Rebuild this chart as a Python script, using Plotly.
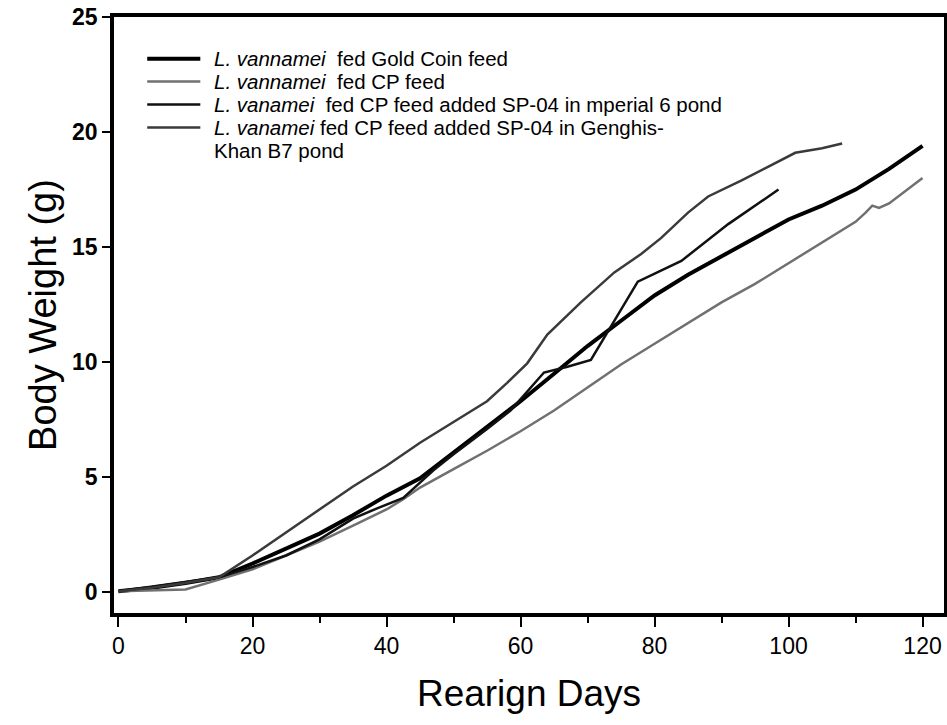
import plotly.graph_objects as go

# Growth of L. vannamei body weight (g) over rearing days
days_gold = [0, 5, 10, 15, 20, 25, 30, 35, 40, 45, 50, 55, 60, 65, 70, 75, 80, 85, 90, 95, 100, 105, 110, 115, 120]
wt_gold = [0.05, 0.2, 0.4, 0.65, 1.25, 1.9, 2.55, 3.35, 4.2, 4.95, 6.05, 7.15, 8.3, 9.5, 10.7, 11.8, 12.9, 13.8, 14.6, 15.4, 16.2, 16.8, 17.5, 18.4, 19.4]

days_cp = [0, 5, 10, 15, 20, 25, 30, 35, 40, 42.5, 45, 50, 55, 60, 65, 70, 75, 80, 85, 90, 95, 100, 105, 110, 111.5, 112.5, 113.5, 115, 120]
wt_cp = [0.05, 0.1, 0.12, 0.55, 1.0, 1.6, 2.2, 2.9, 3.6, 4.05, 4.55, 5.35, 6.15, 7.0, 7.9, 8.9, 9.9, 10.8, 11.7, 12.6, 13.4, 14.3, 15.2, 16.1, 16.5, 16.8, 16.7, 16.9, 18.0]

days_imp = [0, 5, 10, 15, 20, 25, 30, 35, 38.6, 42.5, 47, 50, 55, 58.5, 63.5, 67, 70.5, 77.5, 84, 91, 98.5]
wt_imp = [0.05, 0.25, 0.45, 0.65, 1.1, 1.6, 2.3, 3.2, 3.65, 4.1, 5.3, 6.0, 7.1, 7.9, 9.55, 9.8, 10.1, 13.5, 14.4, 16.0, 17.5]

days_gk = [0, 5, 10, 15, 20, 25, 30, 35, 40, 45, 50, 55, 58, 61, 64, 69, 74, 78, 81, 85, 88, 93, 97, 101, 105, 108]
wt_gk = [0.05, 0.2, 0.4, 0.65, 1.6, 2.6, 3.6, 4.6, 5.5, 6.5, 7.4, 8.3, 9.1, 9.95, 11.2, 12.6, 13.9, 14.7, 15.4, 16.5, 17.2, 17.9, 18.5, 19.1, 19.3, 19.5]

series_names = [
    "<i>L. vannamei</i>&nbsp; fed Gold Coin feed",
    "<i>L. vannamei</i>&nbsp; fed CP feed",
    "<i>L. vanamei</i>&nbsp; fed CP feed added SP-04 in mperial 6 pond",
    "<i>L. vanamei</i> fed CP feed added SP-04 in Genghis-<br>Khan B7 pond",
]
series_colors = ["#000000", "#707070", "#111111", "#3a3a3a"]
series_widths = [4, 2.5, 2.5, 2.5]
series_x = [days_gold, days_cp, days_imp, days_gk]
series_y = [wt_gold, wt_cp, wt_imp, wt_gk]

FONT = "Liberation Sans, Arial, sans-serif"

fig = go.Figure()
for xs, ys, name, col, w in zip(series_x, series_y, series_names, series_colors, series_widths):
    fig.add_trace(go.Scatter(x=xs, y=ys, mode="lines", name=name.replace("<br>", " "),
                             line=dict(color=col, width=w), showlegend=False))

# Legend inside the plot: a line sample per series, text rows spaced tightly
row_step = 0.0384
row0 = 0.930
row = 0
for name, col, w in zip(series_names, series_colors, series_widths):
    ry = row0 - row * row_step
    fig.add_shape(type="line", xref="paper", yref="paper",
                  x0=0.04, x1=0.104, y0=ry, y1=ry,
                  line=dict(color=col, width=w))
    for part in name.split("<br>"):
        fig.add_annotation(xref="paper", yref="paper", x=0.118, y=row0 - row * row_step,
                           xanchor="left", yanchor="middle",
                           text=part, showarrow=False, align="left",
                           font=dict(family=FONT, size=20.5, color="black"))
        row += 1

fig.update_layout(
    width=947, height=725,
    margin=dict(l=114, r=3, t=17, b=112),
    paper_bgcolor="white", plot_bgcolor="white",
    font=dict(family=FONT, color="black"),
)

fig.update_xaxes(
    range=[-0.67, 123.2], tickmode="array", tickvals=[0, 20, 40, 60, 80, 100, 120],
    ticks="outside", ticklen=10, tickwidth=2, tickcolor="black",
    minor=dict(tickvals=[10, 30, 50, 70, 90, 110], ticks="outside", ticklen=6, tickwidth=2, tickcolor="black"),
    showline=True, linewidth=3.5, linecolor="black", mirror=True,
    showgrid=False, zeroline=False,
    tickfont=dict(family=FONT, size=23),
    title=dict(text="Rearign Days", font=dict(family=FONT, size=37), standoff=23),
    automargin=False,
)
fig.update_yaxes(
    range=[-0.9, 25], tickmode="array", tickvals=[0, 5, 10, 15, 20, 25],
    ticks="outside", ticklen=8, tickwidth=2, tickcolor="black",
    showline=True, linewidth=3.5, linecolor="black", mirror=True,
    showgrid=False, zeroline=False,
    tickfont=dict(family=FONT, size=23, weight="bold"),
    title=dict(text="Body Weight (g)", font=dict(family=FONT, size=38), standoff=5),
    automargin=False,
)

fig.write_html("out.html")
